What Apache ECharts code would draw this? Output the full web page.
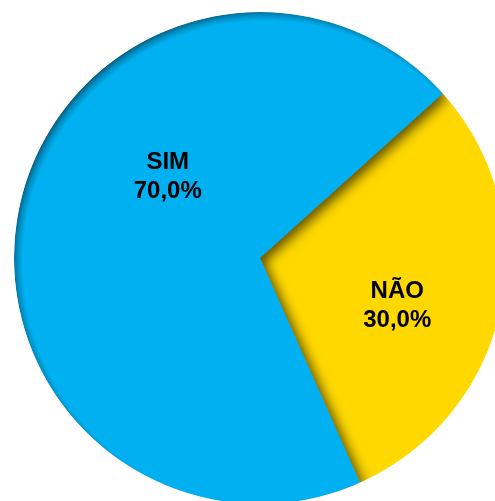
<!DOCTYPE html>
<html>
<head>
<meta charset="utf-8">
<style>
  html, body { margin: 0; padding: 0; background: #ffffff; }
  #chart { width: 495px; height: 501px; }
</style>
<script src="https://cdn.jsdelivr.net/npm/echarts@6/dist/echarts.min.js"></script>
</head>
<body>
<div id="chart"></div>
<script>
// Survey answers (percent)
const categories = ['NÃO', 'SIM'];
const values = [30.0, 70.0];
const sliceColors = ['#FFD800', '#00B0F0'];
// label nudges from the default inside position, [dx, dy] in px
const labelNudges = [[14, 22], [31, -55]];

const CX = 260, CY = 258, R = 246;

// Blue slice: soft inner shade along the upper-left rim
const blueFill = {
  type: 'radial', x: CX + 5, y: CY + 5, r: R + 7, global: true,
  colorStops: [
    { offset: 0, color: '#00B0F0' },
    { offset: 0.958, color: '#00B0F0' },
    { offset: 0.982, color: '#0089bb' },
    { offset: 1, color: '#0d5a7c' }
  ]
};

const pieData = categories.map((name, i) => {
  const item = { name: name, value: values[i], itemStyle: { color: sliceColors[i] } };
  if (name === 'SIM') {
    item.itemStyle = {
      color: blueFill,
      shadowColor: 'rgba(0,0,0,0.62)',
      shadowBlur: 12,
      shadowOffsetX: 5,
      shadowOffsetY: 4
    };
  }
  return item;
});

const chart = echarts.init(document.getElementById('chart'), null, { renderer: 'canvas' });
chart.setOption({
  animation: false,
  backgroundColor: '#ffffff',
  series: [
    {
      type: 'pie',
      center: [CX, CY],
      radius: R,
      startAngle: 42,
      clockwise: true,
      avoidLabelOverlap: false,
      itemStyle: { borderWidth: 0 },
      emphasis: { disabled: true, scale: false },
      label: {
        show: true,
        position: 'inside',
        fontFamily: 'Liberation Sans, Arial, sans-serif',
        fontWeight: 'bold',
        fontSize: 24,
        lineHeight: 29,
        color: '#000000',
        formatter: p => p.name + '\n' + p.value.toFixed(1).replace('.', ',') + '%'
      },
      labelLine: { show: false },
      labelLayout: p => ({ dx: labelNudges[p.dataIndex][0], dy: labelNudges[p.dataIndex][1] }),
      data: pieData
    },
    {
      // white collar that trims shade spilling past the rim
      type: 'pie',
      silent: true,
      z: 5,
      center: [CX, CY],
      radius: [R, R + 120],
      label: { show: false },
      labelLine: { show: false },
      itemStyle: { color: '#ffffff', borderWidth: 0 },
      emphasis: { disabled: true },
      tooltip: { show: false },
      data: [{ value: 1 }]
    }
  ]
});
</script>
</body>
</html>
